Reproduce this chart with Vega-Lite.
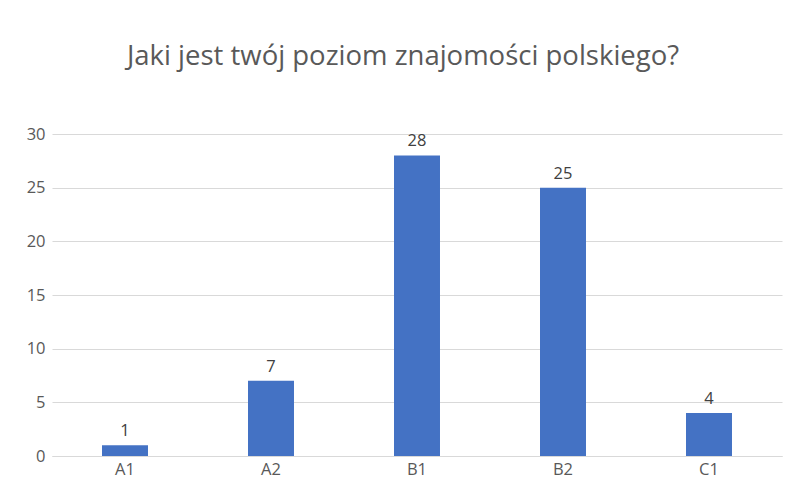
{
  "$schema": "https://vega.github.io/schema/vega-lite/v6.json",
  "autosize": {"type": "none"},
  "width": 730,
  "height": 322,
  "padding": {"left": 52, "top": 134, "right": 5, "bottom": 28},
  "background": "white",
  "config": {
    "font": "Open Sans",
    "view": {"stroke": null},
    "axis": {"labelColor": "#595959", "labelFontSize": 16.5, "labelFont": "Open Sans", "ticks": false, "title": null}
  },
  "title": {
    "text": "Jaki jest twój poziom znajomości polskiego?",
    "fontSize": 27.5,
    "font": "Open Sans",
    "fontWeight": "normal",
    "color": "#595959",
    "anchor": "middle",
    "offset": 56,
    "dx": -14
  },
  "data": {
    "values": [
      {"level": "A1", "count": 1},
      {"level": "A2", "count": 7},
      {"level": "B1", "count": 28},
      {"level": "B2", "count": 25},
      {"level": "C1", "count": 4}
    ]
  },
  "encoding": {
    "x": {
      "field": "level",
      "type": "nominal",
      "sort": null,
      "scale": {"paddingInner": 0.685, "paddingOuter": 0.3425},
      "axis": {"labelAngle": 0, "domainColor": "#d9d9d9", "domainWidth": 1, "labelPadding": 5, "grid": false}
    },
    "y": {
      "field": "count",
      "type": "quantitative",
      "scale": {"domain": [0, 30]},
      "axis": {"values": [0, 5, 10, 15, 20, 25, 30], "domain": false, "gridColor": "#d9d9d9", "labelPadding": 7}
    }
  },
  "layer": [
    {"mark": {"type": "bar", "color": "#4472c4"}},
    {
      "mark": {"type": "text", "baseline": "bottom", "dy": -6, "fontSize": 16.5, "color": "#404040"},
      "encoding": {"text": {"field": "count", "type": "quantitative"}}
    }
  ]
}
